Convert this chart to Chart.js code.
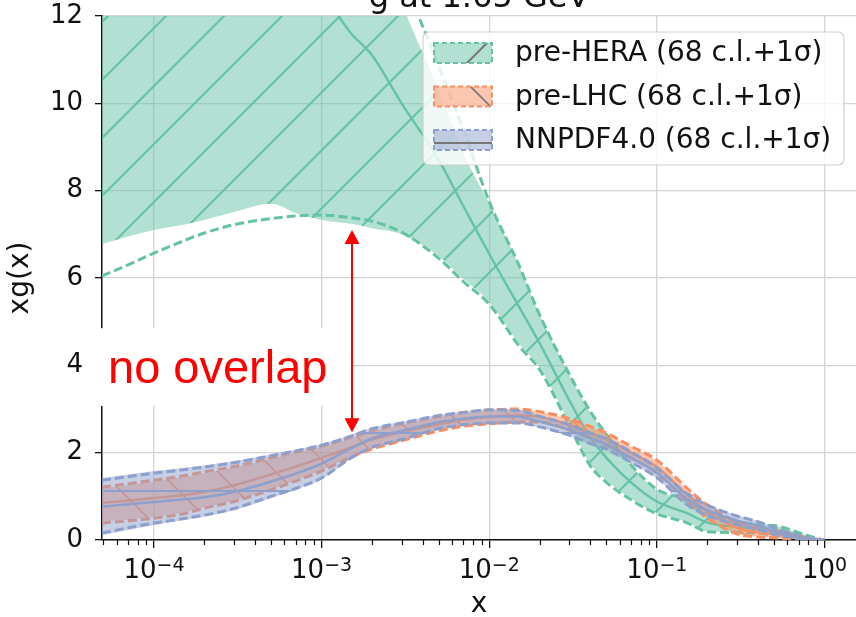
<!DOCTYPE html>
<html><head><meta charset="utf-8">
<script src="https://cdn.jsdelivr.net/npm/chart.js@4.4.1/dist/chart.umd.min.js"></script>
<style>html,body{margin:0;padding:0;background:#fff;overflow:hidden}canvas{display:block}</style>
</head><body>
<canvas id="c" width="856" height="617"></canvas>
<script>
// ---------- data ----------
const xValues = [4.9e-5, 7e-5, 1e-4, 1.5e-4, 2e-4, 3e-4, 5e-4, 7e-4, 1e-3, 1.5e-3, 2e-3, 3e-3, 5e-3, 7e-3, 1e-2, 1.5e-2, 2e-2, 3e-2, 4e-2, 5e-2, 7e-2, 0.1, 0.15, 0.2, 0.3, 0.4, 0.5, 0.6, 0.7, 0.8, 0.9, 1.0];

const seriesNames = ['pre-HERA (68 c.l.+1σ)', 'pre-LHC (68 c.l.+1σ)', 'NNPDF4.0 (68 c.l.+1σ)'];

// pre-HERA
const preHERA_central = [13.6, 13.5, 13.4, 13.3, 13.2, 13.1, 13.0, 12.8, 12.5, 11.6, 11.1, 10.0, 8.7, 7.65, 6.55, 5.35, 4.5, 3.2, 2.35, 1.88, 1.32, 0.88, 0.62, 0.4, 0.3, 0.25, 0.22, 0.17, 0.1, 0.05, 0.02, 0.0];
const preHERA_lo1s = [6.78, 6.95, 7.10, 7.22, 7.33, 7.51, 7.70, 7.49, 7.33, 7.24, 7.14, 7.0, 6.5, 5.98, 5.45, 4.5, 3.95, 2.68, 1.75, 1.37, 0.95, 0.62, 0.42, 0.2, 0.18, 0.16, 0.12, 0.09, 0.05, 0.02, 0.005, 0.0];
const preHERA_up1s = [18, 18, 18, 18, 18, 18, 18, 17.5, 17, 15.5, 14.2, 12.3, 10.3, 8.86, 7.7, 6.3, 5.15, 3.78, 2.92, 2.4, 1.7, 1.14, 0.9, 0.6, 0.41, 0.34, 0.32, 0.25, 0.16, 0.09, 0.04, 0.0];
const preHERA_lo68 = [6.05, 6.3, 6.57, 6.85, 7.03, 7.22, 7.36, 7.42, 7.44, 7.38, 7.3, 7.05, 6.45, 5.92, 5.4, 4.45, 3.9, 2.62, 1.7, 1.32, 0.92, 0.6, 0.4, 0.19, 0.17, 0.15, 0.11, 0.08, 0.04, 0.02, 0.005, 0.0];
const preHERA_up68 = [19, 19, 19, 19, 19, 19, 19, 18.5, 18, 16.5, 15, 13.0, 10.85, 9.4, 7.75, 6.3, 5.15, 3.8, 2.95, 2.42, 1.72, 1.16, 0.92, 0.62, 0.42, 0.35, 0.33, 0.26, 0.17, 0.1, 0.04, 0.0];

// pre-LHC
const preLHC_central = [0.85, 0.90, 0.96, 1.03, 1.10, 1.25, 1.50, 1.68, 1.88, 2.12, 2.30, 2.47, 2.65, 2.75, 2.82, 2.85, 2.82, 2.64, 2.46, 2.31, 2.0, 1.68, 1.05, 0.65, 0.28, 0.17, 0.13, 0.09, 0.05, 0.025, 0.008, 0.0];
const preLHC_lo1s = [0.42, 0.47, 0.53, 0.63, 0.75, 0.90, 1.17, 1.37, 1.60, 1.92, 2.10, 2.29, 2.52, 2.62, 2.68, 2.72, 2.71, 2.53, 2.34, 2.19, 1.89, 1.54, 0.91, 0.51, 0.15, 0.08, 0.06, 0.035, 0.018, 0.006, 0.001, 0.0];
const preLHC_up1s = [1.18, 1.26, 1.34, 1.44, 1.53, 1.66, 1.86, 1.99, 2.13, 2.33, 2.48, 2.64, 2.81, 2.90, 2.96, 2.98, 2.93, 2.76, 2.58, 2.43, 2.13, 1.81, 1.18, 0.78, 0.40, 0.26, 0.20, 0.14, 0.085, 0.042, 0.014, 0.0];
const preLHC_lo68 = [0.39, 0.44, 0.50, 0.60, 0.73, 0.88, 1.15, 1.35, 1.58, 1.90, 2.08, 2.27, 2.50, 2.60, 2.66, 2.70, 2.70, 2.52, 2.33, 2.17, 1.88, 1.53, 0.9, 0.5, 0.14, 0.07, 0.05, 0.03, 0.015, 0.005, 0.0, 0.0];
const preLHC_up68 = [1.21, 1.29, 1.37, 1.47, 1.56, 1.68, 1.88, 2.01, 2.15, 2.35, 2.50, 2.66, 2.83, 2.92, 2.98, 3.0, 2.94, 2.78, 2.6, 2.45, 2.15, 1.83, 1.2, 0.8, 0.42, 0.27, 0.21, 0.15, 0.09, 0.045, 0.015, 0.0];

// NNPDF4.0
const nnpdf_central = [0.76, 0.82, 0.87, 0.93, 0.98, 1.10, 1.34, 1.52, 1.75, 2.10, 2.33, 2.50, 2.70, 2.78, 2.83, 2.82, 2.71, 2.52, 2.33, 2.18, 1.88, 1.54, 0.95, 0.68, 0.45, 0.33, 0.2, 0.12, 0.07, 0.035, 0.01, 0.0];
const nnpdf_lo1s = [0.11, 0.23, 0.34, 0.45, 0.53, 0.68, 0.96, 1.15, 1.39, 1.85, 2.10, 2.28, 2.53, 2.62, 2.66, 2.66, 2.57, 2.38, 2.19, 2.06, 1.76, 1.41, 0.8, 0.54, 0.33, 0.22, 0.12, 0.06, 0.03, 0.012, 0.002, 0.0];
const nnpdf_up1s = [1.42, 1.50, 1.58, 1.65, 1.71, 1.81, 1.96, 2.07, 2.20, 2.41, 2.57, 2.70, 2.87, 2.94, 3.0, 2.98, 2.85, 2.66, 2.47, 2.34, 2.04, 1.67, 1.09, 0.82, 0.57, 0.44, 0.3, 0.19, 0.12, 0.06, 0.022, 0.0];
const nnpdf_lo68 = [0.16, 0.28, 0.39, 0.49, 0.57, 0.72, 1.00, 1.18, 1.42, 1.88, 2.12, 2.30, 2.55, 2.64, 2.68, 2.68, 2.59, 2.40, 2.21, 2.08, 1.78, 1.43, 0.82, 0.56, 0.35, 0.24, 0.13, 0.07, 0.035, 0.015, 0.003, 0.0];
const nnpdf_up68 = [1.37, 1.45, 1.53, 1.61, 1.67, 1.77, 1.93, 2.04, 2.17, 2.38, 2.55, 2.68, 2.85, 2.92, 2.98, 2.96, 2.83, 2.64, 2.45, 2.32, 2.02, 1.65, 1.07, 0.8, 0.55, 0.42, 0.28, 0.18, 0.11, 0.055, 0.02, 0.0];

// axes
const X_MIN = 4.9e-5, X_MAX = 1.54;
const Y_MIN = 0, Y_MAX = 12, Y_STEP = 2;
const xMajorTicks = [1e-4, 1e-3, 1e-2, 1e-1, 1];
const xTickBase = '10';
const xTickExponents = ['\u22124', '\u22123', '\u22122', '\u22121', '0'];
const titleText = 'g at 1.65 GeV';
const xTitle = 'x', yTitle = 'xg(x)';

// annotation
const annotationText = 'no overlap';
const arrowX = 1.52e-3, arrowYTop = 7.10, arrowYBottom = 2.47;
const boxYTop = 4.85, boxYBottom = 3.07;

// ---------- styling ----------
const AREA = {left: 102, top: 16, right: 856, bottom: 540};
const COLORS = ['#66c2a5', '#fc8d62', '#8da0cb'];
const FILLS = ['rgba(102,194,165,0.5)', 'rgba(252,141,98,0.5)', 'rgba(141,160,203,0.5)'];
const HATCH = [{kind: '/', off: 8, lw: 2}, {kind: '\\', off: 36, lw: 1.6}, {kind: '-', off: 27, lw: 1.8}];
const FONT = '"DejaVu Sans", sans-serif';
const TXT = '#111';

function hatchPattern(fill, lineColor, h) {
  const T = 58;
  const c = document.createElement('canvas'); c.width = T; c.height = T;
  const g = c.getContext('2d');
  g.fillStyle = fill; g.fillRect(0, 0, T, T);
  g.strokeStyle = lineColor; g.lineWidth = h.lw; g.beginPath();
  if (h.kind === '/') {
    for (const k of [-1, 0, 1, 2]) { const cc = h.off + k * T; g.moveTo(cc + 6, -6); g.lineTo(cc - T - 6, T + 6); }
  } else if (h.kind === '\\') {
    for (const k of [-2, -1, 0, 1]) { const cc = h.off + k * T; g.moveTo(cc - 6, -6); g.lineTo(cc + T + 6, T + 6); }
  } else {
    g.moveTo(-2, h.off); g.lineTo(T + 2, h.off);
  }
  g.stroke();
  return g.createPattern(c, 'repeat');
}

const pts = arr => arr.map((y, i) => ({x: xValues[i], y}));
const datasets = [];
function addSet(i, lo1, up1, lo68, up68, cen, orderBase) {
  const base = datasets.length;
  const color = COLORS[i];
  datasets.push({label: seriesNames[i] + ' lower', data: pts(lo1), borderWidth: 0, borderColor: 'transparent', fill: false, order: orderBase + 4});
  datasets.push({label: seriesNames[i], data: pts(up1), borderWidth: 0, borderColor: 'transparent', fill: base,
    backgroundColor: hatchPattern(FILLS[i], color, HATCH[i]), order: orderBase + 3});
  datasets.push({label: seriesNames[i] + ' 68 lo', data: pts(lo68), borderColor: color, borderWidth: 3, borderDash: [9, 4], fill: false, order: orderBase + 2});
  datasets.push({label: seriesNames[i] + ' 68 up', data: pts(up68), borderColor: color, borderWidth: 3, borderDash: [9, 4], fill: false, order: orderBase + 1});
  datasets.push({label: seriesNames[i] + ' central', data: pts(cen), borderColor: color, borderWidth: 2.4, fill: false, order: orderBase});
}
addSet(0, preHERA_lo1s, preHERA_up1s, preHERA_lo68, preHERA_up68, preHERA_central, 30);
addSet(1, preLHC_lo1s, preLHC_up1s, preLHC_lo68, preLHC_up68, preLHC_central, 20);
addSet(2, nnpdf_lo1s, nnpdf_up1s, nnpdf_lo68, nnpdf_up68, nnpdf_central, 10);

const overlay = {
  id: 'overlay',
  afterDraw(chart) {
    const ctx = chart.ctx, xs = chart.scales.x, ys = chart.scales.y, a = chart.chartArea;
    ctx.save();
    // minor ticks on the x axis
    ctx.strokeStyle = TXT; ctx.lineWidth = 1.2; ctx.beginPath();
    for (let d = -5; d <= 0; d++) for (let k = 2; k <= 9; k++) {
      const v = k * Math.pow(10, d);
      if (v < X_MIN || v > X_MAX) continue;
      const px = Math.round(xs.getPixelForValue(v)) + 0.5;
      ctx.moveTo(px, a.bottom); ctx.lineTo(px, a.bottom + 5);
    }
    ctx.stroke();

    // x tick labels: 10 with a raised exponent
    ctx.fillStyle = TXT; ctx.textBaseline = 'alphabetic'; ctx.textAlign = 'left';
    xMajorTicks.forEach((v, i) => {
      const px = xs.getPixelForValue(v);
      ctx.font = '26px ' + FONT; const w1 = ctx.measureText(xTickBase).width;
      ctx.font = '19px ' + FONT; const w2 = ctx.measureText(xTickExponents[i]).width;
      const x0 = px - (w1 + w2) / 2;
      ctx.font = '26px ' + FONT; ctx.fillText(xTickBase, x0, a.bottom + 38);
      ctx.font = '19px ' + FONT; ctx.fillText(xTickExponents[i], x0 + w1, a.bottom + 31);
    });

    // title (cut by the top edge)
    ctx.fillStyle = TXT; ctx.font = '32px ' + FONT; ctx.textAlign = 'center'; ctx.textBaseline = 'alphabetic';
    ctx.fillText(titleText, (a.left + a.right) / 2, 7);

    // x axis title
    ctx.font = '28px ' + FONT; ctx.textAlign = 'center'; ctx.textBaseline = 'alphabetic';
    ctx.fillText(xTitle, (a.left + a.right) / 2, 612);

    // legend
    const L = {x: 423, y: 32, w: 421, h: 133, r: 6};
    ctx.beginPath(); ctx.roundRect(L.x, L.y, L.w, L.h, L.r);
    ctx.fillStyle = 'rgba(255,255,255,0.8)'; ctx.fill();
    ctx.strokeStyle = 'rgba(204,204,204,0.9)'; ctx.lineWidth = 1.2; ctx.stroke();
    for (let i = 0; i < 3; i++) {
      const py = 43 + 43.5 * i;
      ctx.fillStyle = hatchPattern(FILLS[i], '#777', HATCH[i]);
      ctx.fillRect(434, py, 58, 20);
      ctx.setLineDash([5, 3]); ctx.strokeStyle = COLORS[i]; ctx.lineWidth = 2;
      ctx.strokeRect(434, py, 58, 20);
      ctx.setLineDash([]);
      ctx.fillStyle = TXT; ctx.font = '28px ' + FONT; ctx.textAlign = 'left'; ctx.textBaseline = 'middle';
      ctx.fillText(seriesNames[i], 515, py + 11);
    }

    // annotation: white box, text and double arrow
    const ax = Math.round(xs.getPixelForValue(arrowX));
    const bTop = ys.getPixelForValue(boxYTop), bBot = ys.getPixelForValue(boxYBottom);
    ctx.fillStyle = '#ffffff';
    ctx.fillRect(a.left - 12, bTop, ax - (a.left - 12), bBot - bTop);
    ctx.fillStyle = '#ff0000'; ctx.font = '47px "Liberation Sans", Arial, sans-serif';
    ctx.textAlign = 'left'; ctx.textBaseline = 'alphabetic';
    ctx.fillText(annotationText, a.left + 6, bBot - 23);
    const yT = ys.getPixelForValue(arrowYTop), yB = ys.getPixelForValue(arrowYBottom);
    const hl = 14, hw = 7.5;
    ctx.strokeStyle = '#ff0000'; ctx.lineWidth = 2;
    ctx.beginPath(); ctx.moveTo(ax, yT + hl - 1); ctx.lineTo(ax, yB - hl + 1); ctx.stroke();
    ctx.beginPath(); ctx.moveTo(ax, yT); ctx.lineTo(ax - hw, yT + hl); ctx.lineTo(ax + hw, yT + hl); ctx.closePath(); ctx.fill();
    ctx.beginPath(); ctx.moveTo(ax, yB); ctx.lineTo(ax - hw, yB - hl); ctx.lineTo(ax + hw, yB - hl); ctx.closePath(); ctx.fill();
    ctx.restore();
  }
};

const isMajor = v => xMajorTicks.some(m => Math.abs(m - v) / m < 1e-6);
const fit = {xh: 617 - AREA.bottom, yw: AREA.left};

const chart = new Chart(document.getElementById('c'), {
  type: 'line',
  data: {datasets},
  plugins: [overlay],
  options: {
    responsive: false, animation: false, devicePixelRatio: 1,
    layout: {padding: {top: AREA.top, right: 0, bottom: 0, left: 0}},
    elements: {point: {radius: 0, hoverRadius: 0}, line: {cubicInterpolationMode: 'monotone'}},
    plugins: {legend: {display: false}, tooltip: {enabled: false}, title: {display: false}},
    events: [],
    scales: {
      x: {
        type: 'logarithmic', min: X_MIN, max: X_MAX,
        afterBuildTicks: s => { s.ticks = xMajorTicks.map(v => ({value: v, major: true})); },
        afterFit: s => { s.height = fit.xh; s.paddingLeft = 0; s.paddingRight = 0; },
        ticks: {autoSkip: false, maxRotation: 0, minRotation: 0, color: TXT, padding: 6,
          font: {family: FONT, size: 24}, callback: () => ''},
        grid: {color: ctx => (ctx.tick && isMajor(ctx.tick.value)) ? '#d4d4d4' : 'transparent', lineWidth: 1.3,
          tickColor: TXT, tickLength: 8, tickWidth: 1.3},
        border: {display: true, color: TXT, width: 1.5},
        title: {display: false}
      },
      y: {
        type: 'linear', min: Y_MIN, max: Y_MAX,
        afterFit: s => { s.width = fit.yw; s.paddingTop = 0; s.paddingBottom = 0; },
        ticks: {stepSize: Y_STEP, color: TXT, padding: 12, font: {family: FONT, size: 26}},
        grid: {color: '#d4d4d4', lineWidth: 1.3, tickColor: TXT, tickLength: 7, tickWidth: 1.3},
        border: {display: true, color: TXT, width: 1.5},
        title: {display: true, text: yTitle, color: TXT, font: {family: FONT, size: 28}, padding: {top: 4, bottom: 0}}
      }
    }
  }
});
// make the plot area land exactly where the reference has it
for (let k = 0; k < 3; k++) {
  const a = chart.chartArea;
  const dt = a.top - AREA.top, db = a.bottom - AREA.bottom, dl = a.left - AREA.left;
  if (Math.abs(dt) < 0.5 && Math.abs(db) < 0.5 && Math.abs(dl) < 0.5) break;
  chart.options.layout.padding.top -= dt;
  fit.xh += db; fit.yw -= dl;
  chart.update();
}
</script>
</body></html>
